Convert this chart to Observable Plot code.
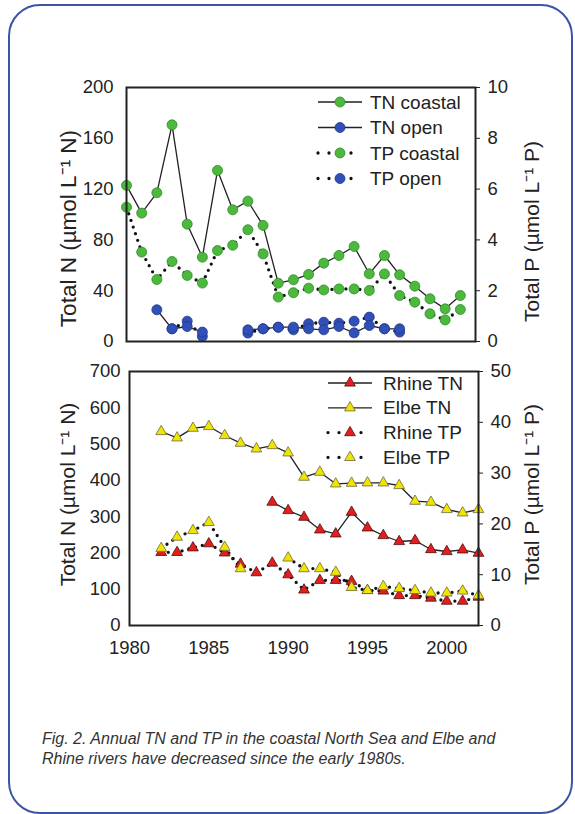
<!DOCTYPE html>
<html>
<head>
<meta charset="utf-8">
<script src="https://cdn.jsdelivr.net/npm/d3@7"></script>
<script src="https://cdn.jsdelivr.net/npm/@observablehq/plot@0.6"></script>
<style>
  html, body { margin: 0; padding: 0; background: #fff; }
  #wrap { position: relative; width: 575px; height: 814px; background: #fff; overflow: hidden; }
  #border { position: absolute; left: 8px; top: 4px; width: 561px; height: 806px; border: 2px solid #3a55a6; border-radius: 32px; box-sizing: content-box; }
  .layer { position: absolute; left: 0; }
  #caption { position: absolute; left: 42px; top: 729px; width: 530px; font-family: "Liberation Sans", Arial, sans-serif; font-style: italic; font-size: 16px; line-height: 19.5px; color: #333; white-space: nowrap; }
</style>
</head>
<body>
<div id="wrap">
  <div id="border"></div>
  <div id="topPanel" class="layer" style="top:0px"></div>
  <div id="bottomPanel" class="layer" style="top:355px"></div>
  <div id="caption">Fig. 2. Annual TN and TP in the coastal North Sea and Elbe and<br>Rhine rivers have decreased since the early 1980s.</div>
</div>
<script>
// ---------- DATA ----------
const years = [1980,1981,1982,1983,1984,1985,1986,1987,1988,1989,1990,1991,1992,1993,1994,1995,1996,1997,1998,1999,2000,2001,2002];

// Top panel: coastal / open North Sea (TN in µmol N/L, TP in µmol P/L)
const tnCoastal = [122.9,101.1,117.1,170.6,92.4,66.4,134.7,103.7,110.5,91.4,45.9,48.6,52.8,61.7,67.7,74.8,53.3,67.7,52.5,43.6,33.6,25.7,36.2];
const tpCoastal = [5.29,3.52,2.44,3.15,2.60,2.30,3.58,3.79,4.40,3.45,1.75,1.92,2.10,2.03,2.07,2.07,2.01,2.66,1.81,1.55,1.09,0.85,1.26];
const tnOpen    = [null,null,25.0,10.0,11.8,7.4,null,null,9.2,10.0,11.3,11.3,10.0,9.2,11.8,6.8,12.6,10.0,10.0,null,null,null,null];
const tpOpen    = [null,null,null,0.50,0.80,0.20,null,null,0.33,0.50,0.56,0.46,0.70,0.76,0.72,0.80,0.96,0.50,0.37,null,null,null,null];

// Bottom panel: rivers (TN in µmol N/L, TP in µmol P/L)
const rhineTN = [null,null,null,null,null,null,null,null,null,339.9,316.9,298.5,263.6,252.6,312.3,269.1,248.0,231.5,234.2,209.4,203.9,208.5,199.3];
const elbeTN  = [null,null,534.6,517.2,543.8,548.4,523.6,502.5,486.9,496.0,475.8,408.8,422.6,390.4,392.2,393.2,393.2,385.8,342.6,339.9,319.7,310.5,319.7];
const rhineTP = [null,null,14.4,14.4,15.3,16.1,14.3,12.1,10.4,12.3,10.0,7.0,8.9,8.9,8.7,6.9,6.8,5.9,5.9,5.4,4.8,4.8,5.6];
const elbeTP  = [null,null,15.2,17.4,18.7,20.3,15.4,11.2,null,null,13.3,11.2,11.2,10.5,7.5,6.9,7.7,7.3,6.9,6.4,6.4,6.8,5.9];

// Axis ticks and labels
const topNTicks = [0,40,80,120,160,200];
const topPFactor = 20;      // 10 µmol P/L <-> 200 µmol N/L
const botNTicks = [0,100,200,300,400,500,600,700];
const botPTicks = [0,10,20,30,40,50];
const botPFactor = 14;      // 50 µmol P/L <-> 700 µmol N/L
const xTicks = [1980,1985,1990,1995,2000];
const titleN = "Total N (µmol L⁻¹ N)";
const titleP = "Total P (µmol L⁻¹ P)";
const topLegend = ["TN coastal","TN open","TP coastal","TP open"];
const botLegend = ["Rhine TN","Elbe TN","Rhine TP","Elbe TP"];

// ---------- STYLE ----------
const FONT = "'Liberation Sans', Arial, sans-serif";
const GREEN = "#4cb83c", GREEN_S = "#2f8a2b";
const BLUE = "#3050b8", BLUE_S = "#1f3690";
const RED = "#e41e1e", RED_S = "#4a1010";
const YEL = "#f1e400", YEL_S = "#6a6a40";
const LINE = "#222";

const rows = (arr, f = 1) => years.map((year, i) => ({year, v: arr[i] == null ? NaN : arr[i] * f}));
const solid = (data) => Plot.line(data, {x: "year", y: "v", stroke: LINE, strokeWidth: 1.3});
const dotted = (data) => Plot.line(data, {x: "year", y: "v", stroke: "#111", strokeWidth: 3.3, strokeDasharray: "0 7", strokeLinecap: "round"});
const circles = (data, fill, stroke) => Plot.dot(data.filter(d => !isNaN(d.v)), {x: "year", y: "v", r: 5, fill, stroke, strokeWidth: 0.8});
const tris = (data, fill, stroke) => Plot.dot(data.filter(d => !isNaN(d.v)), {x: "year", y: "v", symbol: "triangle", r: 4, fill, stroke, strokeWidth: 0.8});
const title = (t, anchor, dx, dy, size) => Plot.text([t], {frameAnchor: anchor, textAnchor: "middle", rotate: -90, dx, dy, fontSize: size, fill: "#222"});

// ---------- TOP PANEL ----------
const tnC = rows(tnCoastal), tpC = rows(tpCoastal, topPFactor), tnO = rows(tnOpen), tpO = rows(tpOpen, topPFactor);
const topChart = Plot.plot({
  width: 575, height: 355,
  marginTop: 87, marginBottom: 14, marginLeft: 126, marginRight: 100,
  x: {domain: [1980, 2003], axis: null},
  y: {domain: [0, 200], axis: null},
  style: {fontFamily: FONT, fontSize: "18.5px", color: "#222", background: "transparent", overflow: "visible"},
  marks: [
    Plot.axisY({anchor: "left", ticks: topNTicks, tickSize: 0, tickPadding: 13, label: null}),
    Plot.axisY({anchor: "right", ticks: topNTicks, tickFormat: d => d / topPFactor, tickSize: 4, tickPadding: 8, label: null}),
    title(titleN, "left", -58, 14, 22.5),
    title(titleP, "right", 57, 17, 21),
    dotted(tpC), dotted(tpO),
    solid(tnC), solid(tnO),
    circles(tpC, GREEN, GREEN_S), circles(tnC, GREEN, GREEN_S),
    circles(tpO, BLUE, BLUE_S), circles(tnO, BLUE, BLUE_S),
    Plot.frame({stroke: "#222", strokeWidth: 2})
  ]
});
document.getElementById("topPanel").appendChild(topChart);

// ---------- BOTTOM PANEL ----------
const rTN = rows(rhineTN), eTN = rows(elbeTN), rTP = rows(rhineTP, botPFactor), eTP = rows(elbeTP, botPFactor);
const bottomChart = Plot.plot({
  width: 575, height: 320,
  marginTop: 16, marginBottom: 50, marginLeft: 129, marginRight: 97,
  x: {domain: [1980, 2002], axis: null},
  y: {domain: [0, 700], axis: null},
  style: {fontFamily: FONT, fontSize: "18.5px", color: "#222", background: "transparent", overflow: "visible"},
  marks: [
    Plot.axisX({anchor: "bottom", ticks: xTicks, tickFormat: d => String(d), tickSize: 0, tickPadding: 15, label: null}),
    Plot.axisY({anchor: "left", ticks: botNTicks, tickSize: 0, tickPadding: 9, label: null}),
    Plot.axisY({anchor: "right", ticks: botPTicks.map(d => d * botPFactor), tickFormat: d => d / botPFactor, tickSize: 4, tickPadding: 8, label: null}),
    title(titleN, "left", -61, -4, 21),
    title(titleP, "right", 54, -4, 21),
    dotted(rTP), dotted(eTP),
    solid(rTN), solid(eTN),
    tris(rTP, RED, RED_S), tris(eTP, YEL, YEL_S),
    tris(rTN, RED, RED_S), tris(eTN, YEL, YEL_S),
    Plot.frame({stroke: "#222", strokeWidth: 2})
  ]
});
document.getElementById("bottomPanel").appendChild(bottomChart);

// ---------- LEGENDS ----------
function legend(svgNode, labels, cfg) {
  const svg = d3.select(svgNode);
  const g = svg.append("g").attr("font-family", FONT).attr("font-size", 19).attr("fill", "#222").attr("text-anchor", "start");
  labels.forEach((lab, i) => {
    const y = cfg.y0 + i * cfg.dy;
    const isDotted = i >= 2;
    const ln = g.append("line").attr("x1", cfg.x0).attr("x2", cfg.x1).attr("y1", y).attr("y2", y);
    if (isDotted) ln.attr("stroke", "#111").attr("stroke-width", 3.3).attr("stroke-dasharray", `0 ${(cfg.x1 - cfg.x0) / 4}`).attr("stroke-linecap", "round");
    else ln.attr("stroke", LINE).attr("stroke-width", 1.3);
    const [fill, stroke] = cfg.colors[i];
    if (cfg.shape === "circle") {
      g.append("circle").attr("cx", cfg.xm).attr("cy", y).attr("r", 5).attr("fill", fill).attr("stroke", stroke).attr("stroke-width", 0.8);
    } else {
      g.append("path").attr("transform", `translate(${cfg.xm},${y})`).attr("d", d3.symbol(d3.symbolTriangle, Math.PI * 16)())
        .attr("fill", fill).attr("stroke", stroke).attr("stroke-width", 0.8);
    }
    g.append("text").attr("x", cfg.xt).attr("y", y).attr("dy", "0.35em").attr("text-anchor", "start").text(lab);
  });
}
legend(topChart, topLegend, {x0: 318, x1: 362, xm: 340, xt: 370, y0: 102, dy: 25.5, shape: "circle",
  colors: [[GREEN, GREEN_S], [BLUE, BLUE_S], [GREEN, GREEN_S], [BLUE, BLUE_S]]});
legend(bottomChart, botLegend, {x0: 328, x1: 372, xm: 350, xt: 383, y0: 28, dy: 24.8, shape: "triangle",
  colors: [[RED, RED_S], [YEL, YEL_S], [RED, RED_S], [YEL, YEL_S]]});
</script>
</body>
</html>
